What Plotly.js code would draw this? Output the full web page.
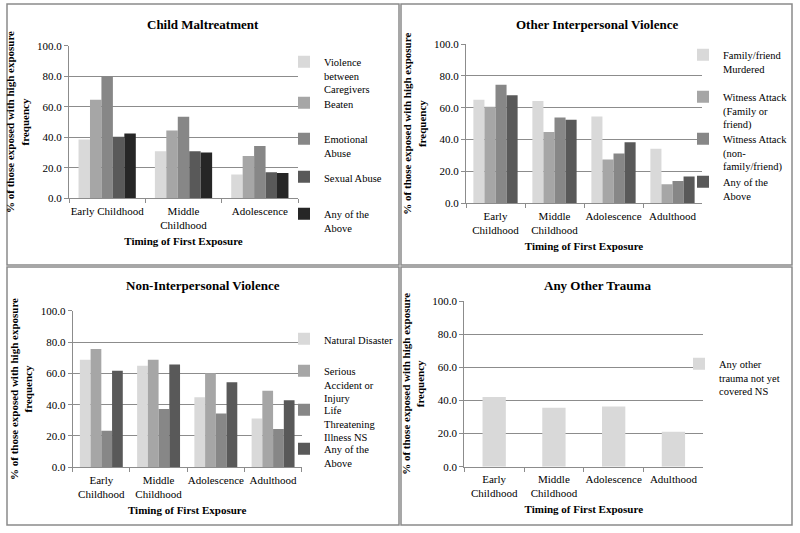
<!DOCTYPE html>
<html>
<head>
<meta charset="utf-8">
<script src="https://cdn.plot.ly/plotly-3.0.1.min.js"></script>
<style>html,body{margin:0;padding:0;background:#fff;}#chart{width:800px;height:533px;}</style>
</head>
<body>
<div id="chart"></div>
<script>
// ---------------- DATA ----------------
const panelTitles = ['Child Maltreatment', 'Other Interpersonal Violence', 'Non-Interpersonal Violence', 'Any Other Trauma'];
const xAxisTitle = 'Timing of First Exposure';
const yAxisTitle = '% of those exposed with high exposure<br>frequency';

const cmCategories = ['Early Childhood', 'Middle<br>Childhood', 'Adolescence'];
const stageCategories = ['Early<br>Childhood', 'Middle<br>Childhood', 'Adolescence', 'Adulthood'];

// Panel 1: Child Maltreatment
const cmNames = ['Violence<br>between<br>Caregivers', 'Beaten', 'Emotional<br>Abuse', 'Sexual Abuse', 'Any of the<br>Above'];
const cmViolence = [38.6, 30.8, 15.6];
const cmBeaten = [64.6, 44.4, 27.8];
const cmEmotional = [80.0, 53.5, 34.2];
const cmSexual = [40.3, 30.8, 17.0];
const cmAny = [42.4, 30.0, 16.6];

// Panel 2: Other Interpersonal Violence
const ipvNames = ['Family/friend<br>Murdered', 'Witness Attack<br>(Family or<br>friend)', 'Witness Attack<br>(non-<br>family/friend)', 'Any of the<br>Above'];
const ipvMurdered = [65.0, 64.2, 54.5, 34.2];
const ipvWitnessFamily = [60.6, 44.7, 27.5, 12.0];
const ipvWitnessNonFamily = [74.4, 53.9, 31.2, 14.0];
const ipvAny = [67.9, 52.4, 38.4, 16.8];

// Panel 3: Non-Interpersonal Violence
const nipvNames = ['Natural Disaster', 'Serious<br>Accident or<br>Injury', 'Life<br>Threatening<br>Illness NS', 'Any of the<br>Above'];
const nipvDisaster = [68.7, 64.9, 44.7, 31.1];
const nipvAccident = [75.5, 68.7, 60.0, 48.9];
const nipvIllness = [23.4, 37.2, 34.3, 24.5];
const nipvAny = [61.7, 65.7, 54.3, 42.8];

// Panel 4: Any Other Trauma
const otherNames = ['Any other<br>trauma not yet<br>covered NS'];
const otherTrauma = [42.1, 35.6, 36.4, 21.1];

// ---------------- STYLE / LAYOUT ----------------
const W = 800, H = 533;
const px = v => v / W;
const py = v => 1 - v / H;
const FONT = '"Liberation Serif", "Times New Roman", Times, serif';
const GRID = '#8c8c8c';
const LEGFONT = 10.5;

const panels = [
  {names: cmNames, series: [cmViolence, cmBeaten, cmEmotional, cmSexual, cmAny], cats: cmCategories,
   colors: ['#d9d9d9', '#a6a6a6', '#878787', '#595959', '#262626'],
   x: [69, 298], y: [45.7, 198.3], leg: {x: 324, y: [62, 103, 139, 177, 214]}, title: [203, 25]},
  {names: ipvNames, series: [ipvMurdered, ipvWitnessFamily, ipvWitnessNonFamily, ipvAny], cats: stageCategories,
   colors: ['#d9d9d9', '#a6a6a6', '#878787', '#595959'],
   x: [466, 702], y: [44, 203.3], leg: {x: 723, y: [55, 97, 139, 182]}, title: [597, 25]},
  {names: nipvNames, series: [nipvDisaster, nipvAccident, nipvIllness, nipvAny], cats: stageCategories,
   colors: ['#d9d9d9', '#a6a6a6', '#878787', '#595959'],
   x: [72.7, 301.7], y: [310.7, 467.3], leg: {x: 324, y: [339, 371, 410, 449]}, title: [203, 285]},
  {names: otherNames, series: [otherTrauma], cats: stageCategories,
   colors: ['#d9d9d9'], width: 0.39,
   x: [464.3, 703.3], y: [301, 466.7], leg: {x: 719, y: [364]}, title: [597, 285]}
];

const data = [];
const layout = {
  width: W, height: H,
  margin: {l: 0, r: 0, t: 0, b: 0},
  paper_bgcolor: '#fff', plot_bgcolor: '#fff',
  font: {family: FONT, size: 11, color: '#000'},
  barmode: 'group', bargap: 0.25, bargroupgap: 0,
  showlegend: true,
  annotations: [], shapes: []
};

let legIdx = 0;
panels.forEach((p, i) => {
  const n = i + 1;
  const xa = 'xaxis' + (n === 1 ? '' : n), ya = 'yaxis' + (n === 1 ? '' : n);
  const xr = 'x' + (n === 1 ? '' : n), yr = 'y' + (n === 1 ? '' : n);
  p.series.forEach((vals, k) => {
    legIdx++;
    const legId = 'legend' + (legIdx === 1 ? '' : legIdx);
    const tr = {
      type: 'bar', x: p.cats, y: vals, name: p.names[k],
      xaxis: xr, yaxis: yr, legend: legId,
      marker: {color: p.colors[k], line: {width: 0}},
      hoverinfo: 'y+name'
    };
    if (p.width) tr.width = p.width;
    data.push(tr);
    layout[legId] = {
      x: px(p.leg.x - 40), y: py(p.leg.y[k] - 13.5), xanchor: 'left', yanchor: 'top',
      bgcolor: 'rgba(0,0,0,0)', borderwidth: 0, valign: 'top',
      font: {family: FONT, size: LEGFONT, color: '#000'},
      itemclick: false, itemdoubleclick: false
    };
  });
  layout[xa] = {
    domain: [px(p.x[0]), px(p.x[1])], anchor: yr, type: 'category',
    showline: true, linecolor: GRID, linewidth: 1,
    ticks: 'outside', tickson: 'boundaries', ticklen: 4, tickcolor: GRID,
    tickangle: 0, ticklabelstandoff: 2,
    showgrid: false, zeroline: false, automargin: false, fixedrange: true,
    tickfont: {family: FONT, size: 11, color: '#000'},
    title: {text: xAxisTitle, font: {family: FONT, size: 11, color: '#000', weight: 'bold'}, standoff: 7}
  };
  layout[ya] = {
    domain: [py(p.y[1]), py(p.y[0])], anchor: xr,
    range: [0, 100], dtick: 20, tick0: 0, tickformat: '.1f',
    showline: true, linecolor: GRID, linewidth: 1,
    ticks: 'outside', ticklen: 4, tickcolor: GRID,
    showgrid: true, gridcolor: GRID, gridwidth: 1,
    zeroline: false, automargin: false, fixedrange: true,
    tickfont: {family: FONT, size: 11, color: '#000'},
    title: {text: yAxisTitle, font: {family: FONT, size: 11, color: '#000', weight: 'bold'}, standoff: 5}
  };
  layout.annotations.push({
    text: panelTitles[i], xref: 'paper', yref: 'paper',
    x: px(p.title[0]), y: py(p.title[1]), xanchor: 'center', yanchor: 'middle',
    showarrow: false, font: {family: FONT, size: 13, color: '#000', weight: 'bold'}
  });
});

// Panel frames
[[7, 4, 399, 265], [401, 4, 792, 265], [7, 267, 399, 525], [401, 267, 792, 525]].forEach(r => {
  layout.shapes.push({type: 'rect', xref: 'paper', yref: 'paper',
    x0: px(r[0]), x1: px(r[2]), y0: py(r[3]), y1: py(r[1]),
    line: {color: '#8a8a8a', width: 1.5}, fillcolor: 'rgba(0,0,0,0)', layer: 'below'});
});

Plotly.newPlot('chart', data, layout, {displayModeBar: false, staticPlot: true});
</script>
</body>
</html>
